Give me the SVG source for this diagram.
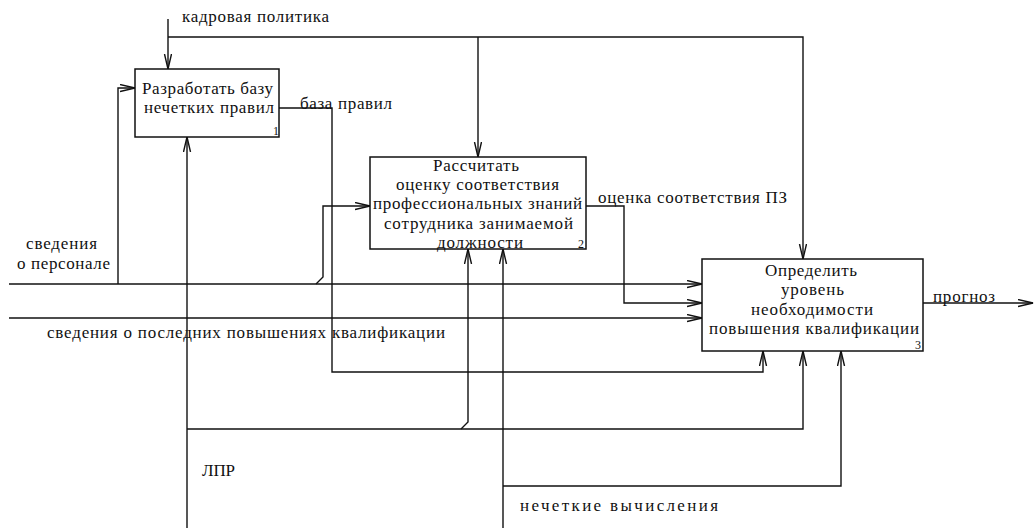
<svg xmlns="http://www.w3.org/2000/svg" width="1034" height="528" viewBox="0 0 1034 528">
<style>
.box{fill:#fff;stroke:#111;stroke-width:1.5}
.ln{fill:none;stroke:#111;stroke-width:1.4}
.t{font-family:"Liberation Serif","Times New Roman",serif;font-size:17px;fill:#111}
.n{font-family:"Liberation Serif","Times New Roman",serif;font-size:12px;fill:#111}
</style>
<defs>
<marker id="arr" markerUnits="userSpaceOnUse" markerWidth="17" markerHeight="10" refX="15" refY="4" orient="auto">
<path d="M0,0.5 L15,4 L0,7.5" fill="none" stroke="#111" stroke-width="1.4"/>
</marker>
</defs>
<rect width="1034" height="528" fill="#fff"/>
<g id="connectors">
<path class="ln" d="M168,19 V69" marker-end="url(#arr)"/>
<path class="ln" d="M168,37 H803 V259" marker-end="url(#arr)"/>
<path class="ln" d="M478,37 V157" marker-end="url(#arr)"/>
<path class="ln" d="M9,284 H702" marker-end="url(#arr)"/>
<path class="ln" d="M118,284 V88 H135" marker-end="url(#arr)"/>
<path class="ln" d="M316,284 L323,277 V206 H370" marker-end="url(#arr)"/>
<path class="ln" d="M9,318 H702" marker-end="url(#arr)"/>
<path class="ln" d="M279,108 H332 V372 H763 V351" marker-end="url(#arr)"/>
<path class="ln" d="M586,206 H624 V303 H702" marker-end="url(#arr)"/>
<path class="ln" d="M923,303 H1033" marker-end="url(#arr)"/>
<path class="ln" d="M187,528 V137" marker-end="url(#arr)"/>
<path class="ln" d="M187,429 H803 V351" marker-end="url(#arr)"/>
<path class="ln" d="M461,429 L468,422 V249" marker-end="url(#arr)"/>
<path class="ln" d="M503,528 V249" marker-end="url(#arr)"/>
<path class="ln" d="M503,486 H841 V351" marker-end="url(#arr)"/>
<text class="t" x="182" y="22" textLength="147" lengthAdjust="spacing">кадровая политика</text>
<text class="t" x="300" y="109" textLength="92" lengthAdjust="spacing">база правил</text>
<text class="t" x="26" y="249" textLength="71" lengthAdjust="spacing">сведения</text>
<text class="t" x="17" y="269" textLength="93" lengthAdjust="spacing">о персонале</text>
<text class="t" x="47" y="338" textLength="398" lengthAdjust="spacing">сведения о последних повышениях квалификации</text>
<text class="t" x="598" y="203" textLength="189" lengthAdjust="spacing">оценка соответствия ПЗ</text>
<text class="t" x="933" y="302" textLength="62" lengthAdjust="spacing">прогноз</text>
<text class="t" x="202" y="476" textLength="33" lengthAdjust="spacing">ЛПР</text>
<text class="t" x="520" y="511" textLength="198" lengthAdjust="spacing">нечеткие вычисления</text>
</g>
<g id="node1">
<rect class="box" x="135" y="69" width="144" height="68"/>
<text class="t" x="142" y="94" textLength="131" lengthAdjust="spacing">Разработать базу</text>
<text class="t" x="144" y="113" textLength="130" lengthAdjust="spacing">нечетких правил</text>
<text class="n" x="273" y="135">1</text>
</g>
<g id="node2">
<rect class="box" x="370" y="157" width="216" height="92"/>
<text class="t" x="433" y="170.5" textLength="86" lengthAdjust="spacing">Рассчитать</text>
<text class="t" x="396" y="189.5" textLength="163" lengthAdjust="spacing">оценку соответствия</text>
<text class="t" x="373" y="209" textLength="209" lengthAdjust="spacing">профессиональных знаний</text>
<text class="t" x="384" y="228.5" textLength="189" lengthAdjust="spacing">сотрудника занимаемой</text>
<text class="t" x="437" y="248" textLength="86" lengthAdjust="spacing">должности</text>
<text class="n" x="578" y="248">2</text>
</g>
<g id="node3">
<rect class="box" x="702" y="259" width="221" height="92"/>
<text class="t" x="765" y="275.5" textLength="92" lengthAdjust="spacing">Определить</text>
<text class="t" x="781" y="295" textLength="63" lengthAdjust="spacing">уровень</text>
<text class="t" x="751" y="314.5" textLength="122" lengthAdjust="spacing">необходимости</text>
<text class="t" x="709" y="334" textLength="210" lengthAdjust="spacing">повышения квалификации</text>
<text class="n" x="915" y="349">3</text>
</g>
</svg>
